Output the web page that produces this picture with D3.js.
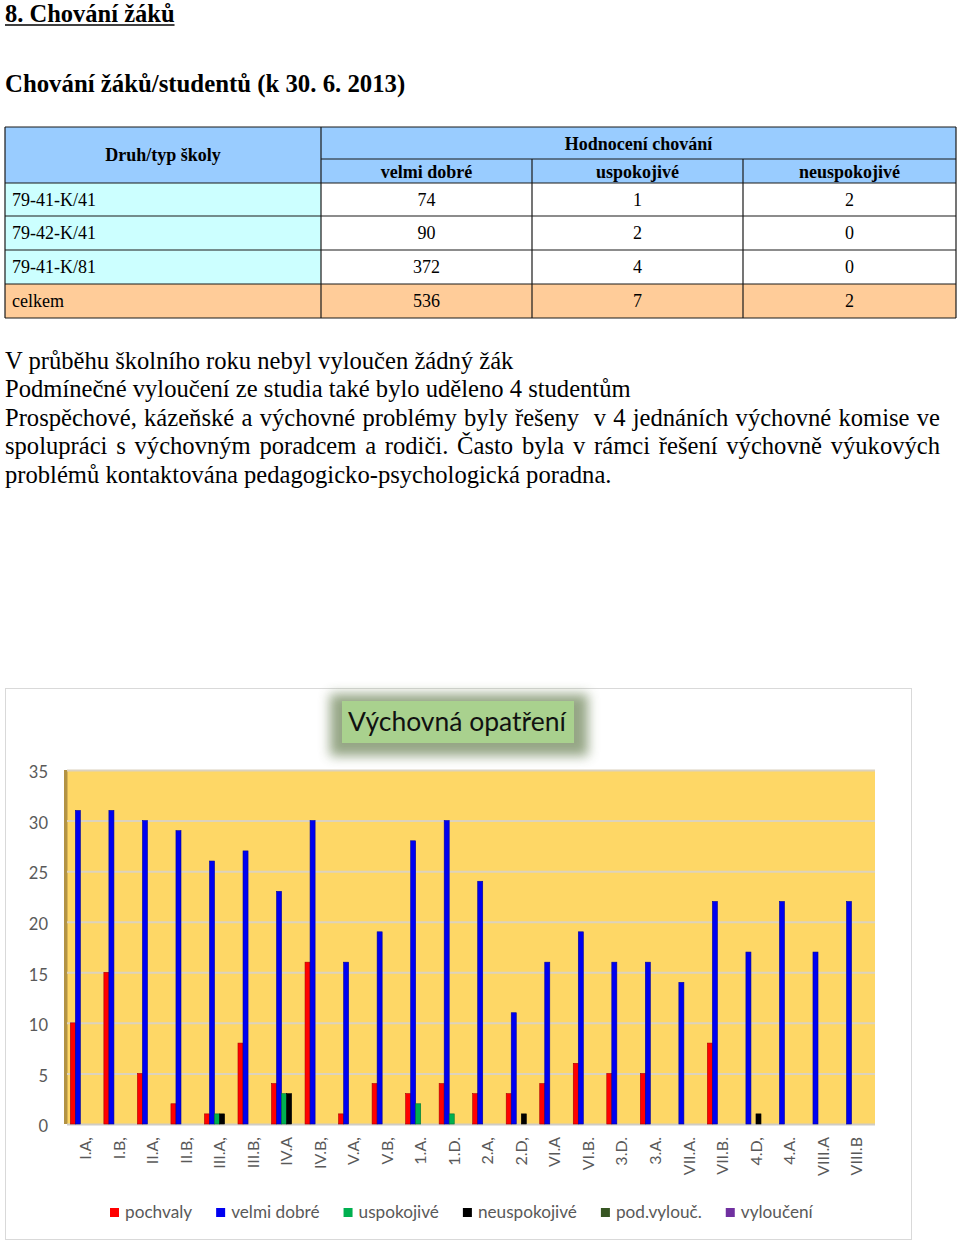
<!DOCTYPE html>
<html><head><meta charset="utf-8">
<script src="https://cdn.jsdelivr.net/npm/d3@7"></script>
<style>body{margin:0;background:#fff}svg{display:block}</style>
</head><body>
<script>
// ---------- DATA ----------
const tableHeaderMain = "Druh/typ školy";
const tableHeaderGroup = "Hodnocení chování";
const tableColumns = ["velmi dobré", "uspokojivé", "neuspokojivé"];
const tableLabels = ["79-41-K/41", "79-42-K/41", "79-41-K/81", "celkem"];
const tableVelmiDobre = [74, 90, 372, 536];
const tableUspokojive = [1, 2, 4, 7];
const tableNeuspokojive = [2, 0, 0, 2];

const paragraphLines = [
  "V průběhu školního roku nebyl vyloučen žádný žák",
  "Podmínečné vyloučení ze studia také bylo uděleno 4 studentům",
  "Prospěchové, kázeňské a výchovné problémy byly řešeny  v 4 jednáních výchovné komise ve",
  "spolupráci s výchovným poradcem a rodiči. Často byla v rámci řešení výchovně výukových",
  "problémů kontaktována pedagogicko-psychologická poradna."
];
const justifiedLines = [false, false, true, true, false];

const chartTitle = "Výchovná opatření";
const categories = ["I.A,","I.B,","II.A,","II.B,","III.A,","III.B,","IV.A","IV.B,","V.A,","V.B,","1.A.","1.D.","2.A,","2.D,","VI.A","VI.B.","3.D.","3.A.","VII.A.","VII.B.","4.D,","4.A.","VIII.A","VIII.B"];
const seriesNames = ["pochvaly","velmi dobré","uspokojivé","neuspokojivé","pod.vylouč.","vyloučení"];
const pochvaly     = [10,15,5,2,1,8,4,16,1,4,3,4,3,3,4,6,5,5,0,8,0,0,0,0];
const velmiDobre   = [31,31,30,29,26,27,23,30,16,19,28,30,24,11,16,19,16,16,14,22,17,22,17,22];
const uspokojive   = [0,0,0,0,1,0,3,0,0,0,2,1,0,0,0,0,0,0,0,0,0,0,0,0];
const neuspokojive = [0,0,0,0,1,0,3,0,0,0,0,0,0,1,0,0,0,0,0,0,1,0,0,0];
const podVylouc    = [0,0,0,0,0,0,0,0,0,0,0,0,0,0,0,0,0,0,0,0,0,0,0,0];
const vylouceni    = [0,0,0,0,0,0,0,0,0,0,0,0,0,0,0,0,0,0,0,0,0,0,0,0];
const yTicks = [0,5,10,15,20,25,30,35];

// ---------- STYLE ----------
const seriesColors = ["#FF0000","#0000F0","#00B050","#000000","#375623","#7030A0"];
const serif = "'Liberation Serif','Times New Roman',serif";
const sans = "Lato,'Open Sans',sans-serif";

const svg = d3.select("body").append("svg").attr("width",960).attr("height",1244);

// ---------- HEADINGS ----------
const h1 = svg.append("text").attr("x",5).attr("y",22).attr("font-family",serif)
  .attr("font-size",24.5).attr("font-weight","bold").text("8. Chování žáků");
const h1w = h1.node().getComputedTextLength();
svg.append("line").attr("x1",5).attr("x2",5+h1w).attr("y1",25).attr("y2",25).attr("stroke","#000").attr("stroke-width",1.5);
svg.append("text").attr("x",5).attr("y",92).attr("font-family",serif)
  .attr("font-size",24.8).attr("font-weight","bold").text("Chování žáků/studentů (k 30. 6. 2013)");

// ---------- TABLE ----------
const tFont = 18;
const colX = [5,321,532,743,956];
const rowY = [127,159,183,216,250,284,318];
const tg = svg.append("g");
tg.append("rect").attr("x",colX[0]).attr("y",rowY[0]).attr("width",colX[4]-colX[0]).attr("height",rowY[2]-rowY[0]).attr("fill","#99CCFF");
tableLabels.forEach((lab,i)=>{
  const y0 = rowY[i+2], y1 = rowY[i+3];
  const last = i===tableLabels.length-1;
  tg.append("rect").attr("x",colX[0]).attr("y",y0).attr("width",colX[1]-colX[0]).attr("height",y1-y0).attr("fill", last?"#FFCC99":"#CCFFFF");
  tg.append("rect").attr("x",colX[1]).attr("y",y0).attr("width",colX[4]-colX[1]).attr("height",y1-y0).attr("fill", last?"#FFCC99":"#FFFFFF");
  const yc = (y0+y1)/2 + 6;
  tg.append("text").attr("x",12).attr("y",yc).attr("font-family",serif).attr("font-size",tFont).text(lab);
  [tableVelmiDobre[i],tableUspokojive[i],tableNeuspokojive[i]].forEach((v,j)=>{
    tg.append("text").attr("x",(colX[j+1]+colX[j+2])/2).attr("y",yc).attr("text-anchor","middle")
      .attr("font-family",serif).attr("font-size",tFont).text(v);
  });
});
function ln(x1,y1,x2,y2){ tg.append("line").attr("x1",x1).attr("y1",y1).attr("x2",x2).attr("y2",y2).attr("stroke","#1a1a1a").attr("stroke-width",1.2); }
ln(colX[0],rowY[0],colX[4],rowY[0]);
ln(colX[1],rowY[1],colX[4],rowY[1]);
for(let r=2;r<rowY.length;r++) ln(colX[0],rowY[r],colX[4],rowY[r]);
ln(colX[0],rowY[0],colX[0],rowY[6]);
ln(colX[1],rowY[0],colX[1],rowY[6]);
ln(colX[2],rowY[1],colX[2],rowY[6]);
ln(colX[3],rowY[1],colX[3],rowY[6]);
ln(colX[4],rowY[0],colX[4],rowY[6]);
tg.append("text").attr("x",163).attr("y",161).attr("text-anchor","middle").attr("font-family",serif).attr("font-size",tFont).attr("font-weight","bold").text(tableHeaderMain);
tg.append("text").attr("x",(colX[1]+colX[4])/2).attr("y",150).attr("text-anchor","middle").attr("font-family",serif).attr("font-size",tFont).attr("font-weight","bold").text(tableHeaderGroup);
tableColumns.forEach((c,j)=>{
  tg.append("text").attr("x",(colX[j+1]+colX[j+2])/2).attr("y",178).attr("text-anchor","middle").attr("font-family",serif).attr("font-size",tFont).attr("font-weight","bold").text(c);
});

// ---------- PARAGRAPH ----------
const pFont = 24.6, pX0 = 5, pX1 = 940;
const baseY = [368.5, 397, 425.5, 454, 482.5];
paragraphLines.forEach((line,i)=>{
  if(!justifiedLines[i]){
    svg.append("text").attr("x",pX0).attr("y",baseY[i]).attr("font-family",serif).attr("font-size",pFont).text(line);
  } else {
    const words = line.split(" ");
    const ws = words.map(w=>{
      const t = svg.append("text").attr("font-family",serif).attr("font-size",pFont).text(w);
      const wd = w.length? t.node().getComputedTextLength() : 0; t.remove(); return wd;
    });
    const total = d3.sum(ws);
    const gap = (pX1-pX0-total)/(words.length-1);
    let x = pX0;
    words.forEach((w,k)=>{
      if(w.length) svg.append("text").attr("x",x).attr("y",baseY[i]).attr("font-family",serif).attr("font-size",pFont).text(w);
      x += ws[k] + gap;
    });
  }
});

// ---------- CHART ----------
svg.append("rect").attr("x",5.5).attr("y",688.5).attr("width",906).attr("height",551).attr("fill","#fff").attr("stroke","#d9d9d9");

const defs = svg.append("defs");
defs.append("filter").attr("id","glow").attr("x","-30%").attr("y","-50%").attr("width","160%").attr("height","200%")
  .append("feGaussianBlur").attr("stdDeviation",6);
svg.append("rect").attr("x",330).attr("y",694).attr("width",258).attr("height",62).attr("fill","#8a9c78").attr("filter","url(#glow)").attr("opacity",0.9);
svg.append("rect").attr("x",342).attr("y",701).attr("width",232).attr("height",42).attr("fill","#A9D18E");
svg.append("text").attr("x",457).attr("y",731).attr("text-anchor","middle").attr("font-family",sans).attr("font-size",26.5).attr("fill","#111").text(chartTitle);

const plot = {left:67, right:875, top:770, bottom:1124};
const y = d3.scaleLinear().domain([0,35]).range([plot.bottom, plot.top]);
const x0 = d3.scaleBand().domain(categories).range([plot.left, plot.right]).paddingInner(0.1).paddingOuter(0.1);
const x1 = d3.scaleBand().domain(seriesNames).range([0, x0.bandwidth()]);

svg.append("rect").attr("x",plot.left).attr("y",plot.top).attr("width",plot.right-plot.left).attr("height",plot.bottom-plot.top).attr("fill","#FED766");
svg.append("rect").attr("x",plot.left-3).attr("y",plot.top).attr("width",3.5).attr("height",plot.bottom-plot.top).attr("fill","#B39344");

// gridlines
const grid = svg.append("g").attr("transform",`translate(${plot.left},0)`)
  .call(d3.axisLeft(y).tickValues(yTicks).tickSize(-(plot.right-plot.left)).tickFormat(""));
grid.select(".domain").remove();
grid.selectAll(".tick line").attr("stroke","#DCD2BE").attr("stroke-width",2);
grid.selectAll(".tick").filter(d=>d===0).select("line").attr("stroke","#D0CCC4").attr("stroke-width",2);

// y labels (front edge sits slightly lower than the back-wall gridlines)
const yax = svg.append("g").attr("transform","translate(48,2)")
  .call(d3.axisLeft(y).tickValues(yTicks).tickSize(0).tickPadding(0));
yax.select(".domain").remove();
yax.selectAll("text").attr("font-family",sans).attr("font-size",16.5).attr("fill","#595959").attr("text-anchor","end").attr("dy","0.35em");

// bars
const seriesData = [pochvaly, velmiDobre, uspokojive, neuspokojive, podVylouc, vylouceni];
const rows = categories.map((c,i)=>({cat:c, vals: seriesNames.map((s,k)=>({s, k, v: seriesData[k][i]}))}));
svg.append("g").selectAll("g").data(rows).join("g").attr("transform",d=>`translate(${x0(d.cat)},0)`)
  .selectAll("rect").data(d=>d.vals.filter(e=>e.v>0)).join("rect")
  .attr("x",d=>x1(d.s)).attr("width",x1.bandwidth())
  .attr("y",d=>y(d.v)).attr("height",d=>y(0)-y(d.v))
  .attr("fill",d=>seriesColors[d.k])
  .attr("stroke",d=>d3.color(seriesColors[d.k]).darker(1.2)).attr("stroke-width",0.6);

// x labels
const xax = svg.append("g").attr("transform",`translate(0,1137)`)
  .call(d3.axisBottom(x0).tickSize(0).tickPadding(0));
xax.select(".domain").remove();
xax.selectAll("text").attr("font-family",sans).attr("font-size",16).attr("fill","#595959")
  .attr("text-anchor","end").attr("transform","rotate(-90)").attr("x",0).attr("y",0).attr("dy","0.35em");

// legend
const leg = svg.append("g");
let lx = 110;
seriesNames.forEach((s,k)=>{
  leg.append("rect").attr("x",lx).attr("y",1208).attr("width",9).attr("height",9).attr("fill",seriesColors[k]);
  const t = leg.append("text").attr("x",lx+15).attr("y",1218).attr("font-family",sans).attr("font-size",17.2).attr("fill","#595959").text(s);
  lx += 15 + t.node().getComputedTextLength() + 24;
});
</script>
</body></html>
